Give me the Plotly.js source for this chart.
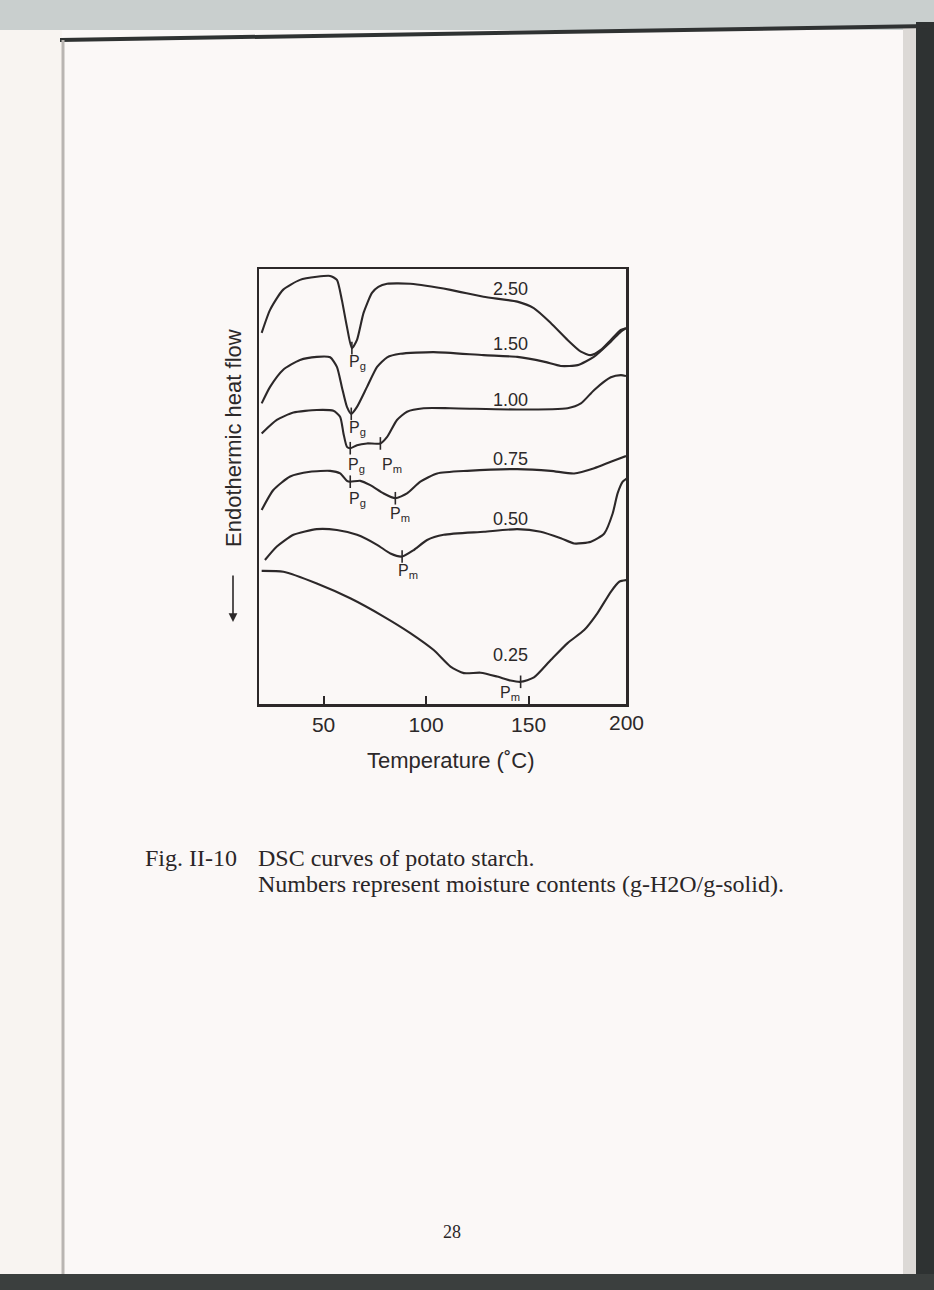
<!DOCTYPE html>
<html>
<head>
<meta charset="utf-8">
<script src="https://cdn.plot.ly/plotly-3.0.1.min.js"></script>
<style>
  html, body { margin: 0; padding: 0; background: #fbf8f7; }
  #chart { width: 934px; height: 1290px; }
</style>
</head>
<body>
<div id="chart"></div>
<script>
// ---- Data (temperature in °C, heat flow in arbitrary units) ----
const moistureLabels = ['2.50', '1.50', '1.00', '0.75', '0.50', '0.25'];

const temp250 = [19.8, 23.9, 30.2, 38.5, 46.7, 53.2, 56.5, 58.9, 61.4, 63.8, 66.3, 69.5, 73.6, 76.7, 81.0, 92.3, 111.9, 128.0, 144.5, 152.5, 160.8, 169.0, 175.5, 180.4, 185.2, 190.1, 195.0, 197.5];
const flow250 = [85.3, 90.6, 95.2, 97.5, 98.2, 98.4, 97.5, 92.9, 86.7, 81.8, 83.7, 89.9, 94.5, 95.9, 96.6, 96.6, 95.2, 93.6, 92.5, 91.0, 87.6, 83.7, 81.0, 80.2, 81.4, 83.7, 86.0, 86.4];

const temp150 = [19.8, 23.9, 30.2, 38.5, 46.7, 53.2, 56.5, 58.9, 61.4, 63.5, 66.3, 71.2, 76.1, 81.0, 87.4, 103.6, 128.0, 144.5, 157.4, 165.7, 173.9, 181.8, 190.1, 195.0, 197.5];
const flow150 = [69.1, 72.9, 76.8, 79.1, 79.8, 79.7, 77.5, 72.9, 68.3, 66.7, 68.3, 72.9, 77.5, 79.7, 80.5, 80.9, 80.2, 79.8, 78.7, 77.7, 77.9, 79.8, 83.3, 85.6, 86.4];

const temp100 = [19.8, 27.2, 35.3, 46.7, 54.8, 58.1, 59.7, 61.4, 63.0, 66.3, 71.2, 77.7, 81.0, 85.8, 90.7, 98.8, 111.9, 144.5, 169.0, 175.5, 182.0, 190.1, 195.0, 197.5];
const flow100 = [62.2, 65.3, 67.0, 67.6, 67.4, 66.0, 62.2, 59.1, 58.8, 59.5, 59.9, 59.9, 61.4, 65.3, 67.2, 68.0, 68.0, 67.7, 68.0, 69.1, 72.2, 75.1, 75.6, 75.4];

const temp075 = [19.8, 25.5, 33.7, 43.4, 53.2, 58.1, 61.4, 63.0, 67.9, 72.8, 79.3, 85.0, 90.7, 97.2, 105.4, 120.1, 144.5, 160.8, 172.2, 182.0, 190.1, 197.5];
const flow075 = [44.6, 49.2, 52.3, 53.4, 53.6, 53.0, 51.3, 51.1, 51.3, 50.3, 48.4, 47.3, 48.4, 51.1, 53.0, 53.6, 54.0, 53.6, 53.0, 54.2, 55.7, 57.0];

const temp050 = [21.4, 27.2, 35.3, 46.7, 56.5, 66.3, 76.1, 82.6, 88.3, 94.0, 100.5, 108.6, 128.2, 144.5, 155.9, 165.7, 172.2, 180.4, 186.9, 191.0, 193.4, 195.9, 198.0];
const flow050 = [33.1, 36.2, 38.9, 40.2, 40.0, 38.9, 36.6, 34.6, 33.9, 35.4, 37.7, 38.9, 39.6, 40.2, 39.6, 38.1, 36.9, 37.3, 39.2, 43.8, 48.4, 51.1, 51.9];

const temp025 = [19.8, 30.4, 46.7, 63.0, 79.3, 92.3, 103.7, 111.9, 118.4, 126.6, 134.7, 141.2, 146.1, 152.6, 160.8, 169.0, 177.1, 183.6, 190.1, 194.2, 198.0];
const flow025 = [30.6, 30.4, 27.7, 24.3, 20.1, 16.3, 12.4, 8.6, 7.1, 7.2, 6.3, 5.4, 5.1, 6.1, 10.1, 14.0, 17.0, 20.9, 25.8, 28.1, 28.5];

// Characteristic points: Pg (gelatinization) and Pm (melting)
const peakNames = ['P<sub>g</sub>', 'P<sub>g</sub>', 'P<sub>g</sub>', 'P<sub>m</sub>', 'P<sub>g</sub>', 'P<sub>m</sub>', 'P<sub>m</sub>', 'P<sub>m</sub>'];
const peakTemp  = [63.8, 63.5, 63.0, 77.7, 63.0, 85.0, 88.3, 146.1];
const peakFlow  = [81.8, 66.7, 58.8, 59.9, 51.1, 47.3, 33.9, 5.1];

const xTickVals = [50, 100, 150];
const xTickText = ['50', '100', '150'];

// ---- Layout geometry helpers (pixel -> paper) ----
const W = 934, H = 1290;
const PL = 259, PR = 626, PT = 269, PB = 704;
const fx = px => (px - PL) / (PR - PL);
const fy = py => (PB - py) / (PB - PT);

const ink = '#2c2829';
const sans = 'Liberation Sans, Arial, sans-serif';
const serif = 'Liberation Serif, Times New Roman, serif';
const lineStyle = { color: ink, width: 2.1, shape: 'spline', smoothing: 0.6 };

const series = [
  [temp250, flow250], [temp150, flow150], [temp100, flow100],
  [temp075, flow075], [temp050, flow050], [temp025, flow025]
];

const traces = series.map((s, i) => ({
  type: 'scatter', mode: 'lines', x: s[0], y: s[1],
  name: moistureLabels[i], line: lineStyle, hoverinfo: 'skip'
}));

traces.push({
  type: 'scatter', mode: 'markers', x: peakTemp, y: peakFlow,
  marker: { symbol: 'line-ns', size: 9, line: { width: 1.6, color: ink }, color: ink },
  hoverinfo: 'skip'
});

// curve labels
const curveLabelY = [95.4, 82.8, 69.9, 56.3, 42.6, 11.3];
const annotations = moistureLabels.map((t, i) => ({
  x: 141, y: curveLabelY[i], xref: 'x', yref: 'y', text: t, showarrow: false,
  xanchor: 'center', yanchor: 'middle',
  font: { family: sans, size: 18, color: ink }
}));

// peak labels (pixel offsets from the tick mark)
const peakShift = [[-5, -3], [-4, -3], [-4, -6], [0, -11], [-3, -6], [-7, -5], [-6, -3], [-23, 0]];
peakNames.forEach((t, i) => {
  annotations.push({
    x: peakTemp[i], y: peakFlow[i], xref: 'x', yref: 'y', text: t, showarrow: false,
    xanchor: 'left', yanchor: 'top', xshift: peakShift[i][0], yshift: peakShift[i][1],
    font: { family: sans, size: 16, color: ink }
  });
});

const paperText = (px, py, text, font, xanchor, extra) => Object.assign({
  x: fx(px), y: fy(py), xref: 'paper', yref: 'paper', text: text, showarrow: false,
  xanchor: xanchor || 'center', yanchor: 'middle', font: font
}, extra || {});

// tick label 200 at the right frame edge
annotations.push(paperText(626, 722, '200', { family: sans, size: 21, color: ink }));
// x-axis title
annotations.push(paperText(450, 760, 'Temperature (˚C)', { family: sans, size: 22, color: ink }));
// y-axis title with arrow
annotations.push(paperText(233, 438, 'Endothermic heat flow', { family: sans, size: 22, color: ink }, 'center', { textangle: -90 }));
annotations.push({
  x: fx(233), y: fy(622), xref: 'paper', yref: 'paper', text: '', showarrow: true,
  ax: 0, ay: -48, arrowhead: 2, arrowsize: 1.1, arrowwidth: 1.6, arrowcolor: ink
});

// caption
const capFont = { family: serif, size: 24, color: '#2a2627' };
annotations.push(paperText(143, 858, 'Fig. II-10', capFont, 'left'));
annotations.push(paperText(256, 858, 'DSC curves of potato starch.', capFont, 'left'));
annotations.push(paperText(256, 884, 'Numbers represent moisture contents (g-H2O/g-solid).', capFont, 'left'));
// page number
annotations.push(paperText(452, 1232, '28', { family: serif, size: 18, color: '#2a2627' }));

// page decorations (scan of a bound book)
const rect = (x0, y0, x1, y1, color) => ({
  type: 'rect', xref: 'paper', yref: 'paper', x0: fx(x0), x1: fx(x1), y0: fy(y1), y1: fy(y0),
  fillcolor: color, line: { width: 0 }, layer: 'below'
});
const shapes = [
  rect(0, 0, 934, 30, '#c9cfce'),
  rect(0, 30, 62, 1290, '#f8f4f1'),
  rect(903, 28, 916, 1275, '#dcd9d6'),
  rect(916, 22, 934, 1290, '#2e3232'),
  rect(0, 1274, 934, 1290, '#3b3f3e'),
  { type: 'path', xref: 'paper', yref: 'paper', layer: 'below',
    path: `M ${fx(60)} ${fy(38)} L ${fx(930)} ${fy(24)} L ${fx(930)} ${fy(28)} L ${fx(60)} ${fy(42)} Z`,
    fillcolor: '#2f3232', line: { width: 0 } },
  { type: 'line', xref: 'paper', yref: 'paper', layer: 'below',
    x0: fx(63), x1: fx(63), y0: fy(40), y1: fy(1274), line: { color: '#b9b5b2', width: 3 } }
];

const layout = {
  width: W, height: H,
  margin: { l: PL, r: W - PR, t: PT, b: H - PB, pad: 0 },
  paper_bgcolor: '#fbf8f7', plot_bgcolor: 'rgba(0,0,0,0)',
  showlegend: false,
  xaxis: {
    range: [18.5, 197.5], tickvals: xTickVals, ticktext: xTickText,
    ticks: 'inside', ticklen: 8, tickwidth: 2, tickcolor: ink,
    showline: true, linewidth: 2.5, linecolor: ink, mirror: true,
    showgrid: false, zeroline: false,
    tickfont: { family: sans, size: 21, color: ink }
  },
  yaxis: {
    range: [0, 100], showticklabels: false, ticks: '',
    showline: true, linewidth: 2.5, linecolor: ink, mirror: true,
    showgrid: false, zeroline: false
  },
  annotations: annotations,
  shapes: shapes
};

Plotly.newPlot('chart', traces, layout, { staticPlot: true, displayModeBar: false });
</script>
</body>
</html>
